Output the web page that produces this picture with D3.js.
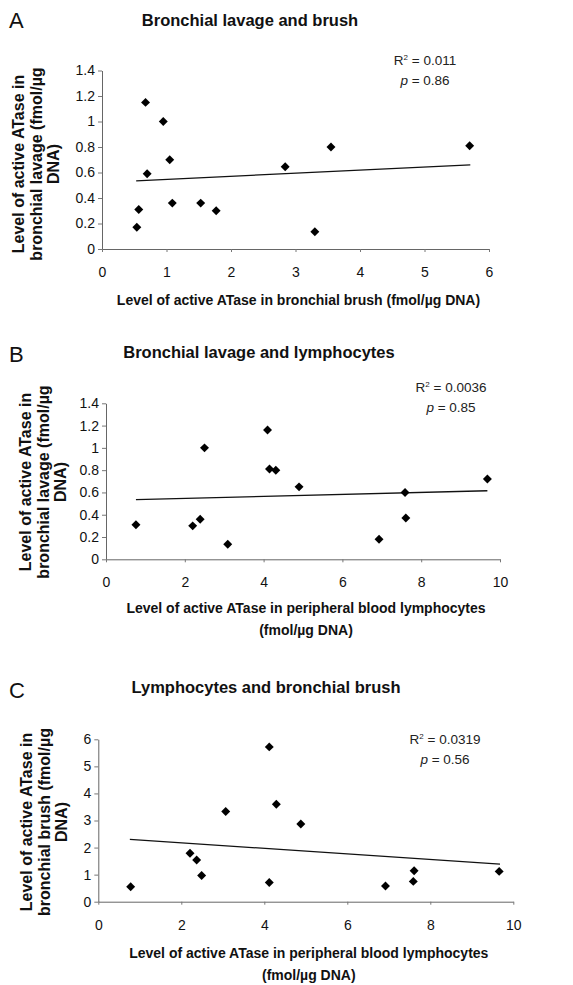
<!DOCTYPE html>
<html>
<head>
<meta charset="utf-8">
<script src="https://cdn.jsdelivr.net/npm/d3@7"></script>
<style>
body { margin: 0; background: #fff; }
text { font-family: "Liberation Sans", Arial, sans-serif; fill: #111; }
</style>
</head>
<body>
<svg id="fig" width="573" height="985"></svg>
<script>
// values (fmol/ug DNA)
var brushA  = [0.54, 0.57, 0.675, 0.70, 0.95, 1.05, 1.09, 1.53, 1.77, 2.84, 3.30, 3.55, 5.70];
var lavageA = [0.17, 0.31, 1.15, 0.59, 1.00, 0.70, 0.36, 0.36, 0.30, 0.645, 0.135, 0.80, 0.81];

var lymphoB = [0.76, 2.20, 2.39, 2.50, 3.09, 4.10, 4.15, 4.31, 4.90, 6.93, 7.59, 7.61, 9.68];
var lavageB = [0.31, 0.30, 0.36, 1.00, 0.135, 1.16, 0.81, 0.80, 0.65, 0.18, 0.60, 0.37, 0.72];

var lymphoC = [0.78, 2.21, 2.37, 2.49, 3.07, 4.12, 4.12, 4.29, 4.88, 6.92, 7.59, 7.61, 9.66];
var brushC  = [0.55, 1.79, 1.54, 0.97, 3.33, 5.72, 0.71, 3.60, 2.87, 0.58, 0.75, 1.14, 1.12];

// fitted lines, end points as drawn
var trendAx = [0.53, 5.71], trendAy = [0.535, 0.66];
var trendBx = [0.76, 9.68], trendBy = [0.535, 0.615];
var trendCx = [0.76, 9.68], trendCy = [2.30, 1.39];

var ticksX6  = [0, 1, 2, 3, 4, 5, 6];
var ticksX10 = [0, 2, 4, 6, 8, 10];
var ticksY14 = [0, 0.2, 0.4, 0.6, 0.8, 1, 1.2, 1.4];
var ticksY6  = [0, 1, 2, 3, 4, 5, 6];

var letters = ["A", "B", "C"];
var titles  = ["Bronchial lavage and brush", "Bronchial lavage and lymphocytes", "Lymphocytes and bronchial brush"];
var r2vals  = ["0.011", "0.0036", "0.0319"];
var pvals   = ["0.86", "0.85", "0.56"];

var xTitles = [
  ["Level of active ATase in bronchial brush (fmol/\u00b5g DNA)"],
  ["Level of active ATase in peripheral blood lymphocytes", "(fmol/\u00b5g DNA)"],
  ["Level of active ATase in peripheral blood lymphocytes", "(fmol/\u00b5g DNA)"]
];
var yTitles = [
  ["Level of active ATase in", "bronchial lavage (fmol/\u00b5g", "DNA)"],
  ["Level of active ATase in", "bronchial lavage (fmol/\u00b5g", "DNA)"],
  ["Level of active ATase in", "bronchial brush (fmol/\u00b5g", "DNA)"]
];

var svg = d3.select("#fig");
svg.append("rect").attr("width", 573).attr("height", 985).attr("fill", "#fff");

var panels = [
  { xs: brushA, ys: lavageA, tx: trendAx, ty: trendAy, xmax: 6, ymax: 1.4, xt: ticksX6, yt: ticksY14,
    left: 102, right: 489, top: 70.5, bottom: 249,
    letterY: 28, titleX: 250, titleY: 26, statX: 425, statY: 65,
    xtY: 305, ytX: 24, ytY: 164 },
  { xs: lymphoB, ys: lavageB, tx: trendBx, ty: trendBy, xmax: 10, ymax: 1.4, xt: ticksX10, yt: ticksY14,
    left: 106, right: 500, top: 403.3, bottom: 559.3,
    letterY: 362, titleX: 259, titleY: 358, statX: 451, statY: 392,
    xtY: 613, ytX: 31, ytY: 482 },
  { xs: lymphoC, ys: brushC, tx: trendCx, ty: trendCy, xmax: 10, ymax: 6, xt: ticksX10, yt: ticksY6,
    left: 98.3, right: 513.3, top: 739.3, bottom: 901.7,
    letterY: 698, titleX: 266, titleY: 693, statX: 445, statY: 744,
    xtY: 958, ytX: 32, ytY: 822 }
];

var diamond = d3.symbol().type(d3.symbolSquare).size(40);

panels.forEach(function(p, i) {
  var x = d3.scaleLinear().domain([0, p.xmax]).range([p.left, p.right]);
  var y = d3.scaleLinear().domain([0, p.ymax]).range([p.bottom, p.top]);
  var g = svg.append("g");

  g.append("text").attr("x", 9).attr("y", p.letterY)
    .style("font-size", "22px").text(letters[i]);

  g.append("text").attr("x", p.titleX).attr("y", p.titleY)
    .attr("text-anchor", "middle")
    .style("font-size", "16.5px").style("font-weight", "bold")
    .text(titles[i]);

  // R2 and p
  var st = g.append("text").attr("x", p.statX).attr("y", p.statY)
    .attr("text-anchor", "middle").style("font-size", "13.5px").style("fill", "#222");
  st.append("tspan").text("R");
  st.append("tspan").attr("dy", -5).style("font-size", "8px").text("2");
  st.append("tspan").attr("dy", 5).text(" = " + r2vals[i]);

  var pt = g.append("text").attr("x", p.statX).attr("y", p.statY + 19.5)
    .attr("text-anchor", "middle").style("font-size", "13.5px").style("fill", "#222");
  pt.append("tspan").style("font-style", "italic").text("p");
  pt.append("tspan").text("  = " + pvals[i]);

  // axes
  var fmt = d3.format("~g");
  var ya = g.append("g").attr("transform", "translate(" + p.left + ",0)")
    .call(d3.axisLeft(y).tickValues(p.yt).tickSize(4).tickSizeOuter(0).tickPadding(3).tickFormat(fmt));
  var xa = g.append("g").attr("transform", "translate(0," + p.bottom + ")")
    .call(d3.axisBottom(x).tickValues(p.xt).tickSize(3).tickSizeOuter(0).tickPadding(15).tickFormat(fmt));
  [ya, xa].forEach(function(a) {
    a.attr("font-size", null).attr("font-family", null);
    a.select(".domain").attr("stroke", "#666");
    a.selectAll(".tick line").attr("stroke", "#777");
    a.selectAll(".tick text").style("font-size", "14px").attr("fill", "#222");
  });

  // axis titles
  xTitles[i].forEach(function(t, k) {
    g.append("text").attr("x", (p.left + p.right) / 2 + 3).attr("y", p.xtY + k * 22)
      .attr("text-anchor", "middle")
      .style("font-size", "14px").style("font-weight", "bold").text(t);
  });
  yTitles[i].forEach(function(t, k) {
    g.append("text")
      .attr("transform", "translate(" + (p.ytX + k * 17.5) + "," + p.ytY + ") rotate(-90)")
      .attr("text-anchor", "middle")
      .style("font-size", "16px").style("font-weight", "bold").text(t);
  });

  // trend line
  g.append("line")
    .attr("x1", x(p.tx[0])).attr("y1", y(p.ty[0]))
    .attr("x2", x(p.tx[1])).attr("y2", y(p.ty[1]))
    .attr("stroke", "#111").attr("stroke-width", 1.3);

  // points
  g.append("g").selectAll("path")
    .data(d3.range(p.xs.length))
    .join("path")
    .attr("d", diamond)
    .attr("transform", function(k) { return "translate(" + x(p.xs[k]) + "," + y(p.ys[k]) + ") rotate(45)"; })
    .attr("fill", "#000");
});
</script>
</body>
</html>
